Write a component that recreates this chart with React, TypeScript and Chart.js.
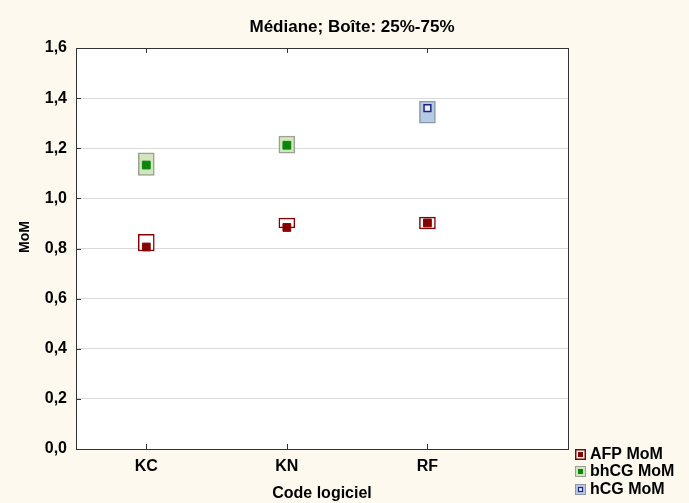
import React, { useEffect, useRef } from 'react';
import { Chart, registerables } from 'chart.js';

Chart.register(...registerables);

// ---- data ----
const categories = ['KC', 'KN', 'RF'];

// AFP MoM (KC, KN, RF)
const afpQ1 = [0.79, 0.882, 0.878];
const afpMedian = [0.806, 0.884, 0.902];
const afpQ3 = [0.857, 0.921, 0.925];

// bhCG MoM (KC, KN)
const bhcgCats = [0, 1];
const bhcgQ1 = [1.092, 1.18];
const bhcgMedian = [1.133, 1.212];
const bhcgQ3 = [1.182, 1.249];

// hCG MoM (RF)
const hcgCats = [2];
const hcgQ1 = [1.3];
const hcgMedian = [1.36];
const hcgQ3 = [1.388];

const seriesLabels = ['AFP MoM', 'bhCG MoM', 'hCG MoM'];
const titleText = 'Médiane; Boîte: 25%-75%';
const xTitle = 'Code logiciel';
const yTitle = 'MoM';
const yMin = 0;
const yMax = 1.6;
const yStep = 0.2;

// ---- styles ----
const FONT = "'Liberation Sans', Arial, Helvetica, sans-serif";
const BG = '#fdf9ef';
const AFP_DARK = '#860000';
const BHCG_FILL = '#d2e5bf';
const BHCG_EDGE = '#97a28f';
const BHCG_DARK = '#0b860b';
const HCG_FILL = '#b7cae3';
const HCG_EDGE = '#8d97aa';
const HCG_DARK = '#1f237f';
const HCG_INNER = '#e9eff8';

const framePlugin = {
  id: 'frameAndLegend',
  beforeDraw(chart: any) {
    const { ctx, chartArea: a } = chart;
    ctx.save();
    ctx.fillStyle = BG;
    ctx.fillRect(0, 0, chart.width, chart.height);
    ctx.fillStyle = '#ffffff';
    ctx.fillRect(a.left, a.top, a.right - a.left, a.bottom - a.top);
    ctx.restore();
  },
  afterDraw(chart: any) {
    const { ctx, chartArea: a } = chart;
    const xs = chart.scales.x;
    const ys = chart.scales.y;
    ctx.save();
    // frame
    ctx.strokeStyle = '#333333';
    ctx.lineWidth = 1;
    ctx.strokeRect(Math.round(a.left) + 0.5, Math.round(a.top) + 0.5, Math.round(a.right - a.left), Math.round(a.bottom - a.top));
    // inward ticks
    ctx.beginPath();
    ys.ticks.forEach((t: any) => {
      const y = Math.round(ys.getPixelForValue(t.value)) + 0.5;
      ctx.moveTo(a.left, y);
      ctx.lineTo(a.left + 5, y);
    });
    xs.ticks.forEach((t: any) => {
      const x = Math.round(xs.getPixelForValue(t.value)) + 0.5;
      ctx.moveTo(x, a.bottom);
      ctx.lineTo(x, a.bottom - 5);
      ctx.moveTo(x, a.top);
      ctx.lineTo(x, a.top + 5);
    });
    ctx.stroke();

    // title
    ctx.fillStyle = '#000000';
    ctx.font = `bold 17px ${FONT}`;
    ctx.textAlign = 'center';
    ctx.textBaseline = 'middle';
    ctx.fillText(titleText, 352, 27);

    // y axis title
    ctx.save();
    ctx.translate(25, 237);
    ctx.rotate(-Math.PI / 2);
    ctx.font = `bold 14px ${FONT}`;
    ctx.fillText(yTitle, 0, 0);
    ctx.restore();

    // legend
    const lx = Math.round(a.right) + 7;
    const rows = [a.bottom + 5, a.bottom + 22, a.bottom + 40];
    const s = 11;
    ctx.font = `bold 16px ${FONT}`;
    ctx.textBaseline = 'middle';
    ctx.textAlign = 'left';
    rows.forEach((cy, i) => {
      const top = Math.round(cy - s / 2);
      if (i === 0) {
        ctx.fillStyle = '#ffffff';
        ctx.fillRect(lx, top, s, s);
        ctx.strokeStyle = AFP_DARK;
        ctx.lineWidth = 1.5;
        ctx.strokeRect(lx + 0.75, top + 0.75, s - 1.5, s - 1.5);
        ctx.fillStyle = AFP_DARK;
        ctx.fillRect(lx + 3, top + 3, s - 6, s - 6);
      } else if (i === 1) {
        ctx.fillStyle = BHCG_FILL;
        ctx.fillRect(lx, top, s, s);
        ctx.strokeStyle = BHCG_EDGE;
        ctx.lineWidth = 1;
        ctx.strokeRect(lx + 0.5, top + 0.5, s - 1, s - 1);
        ctx.fillStyle = BHCG_DARK;
        ctx.fillRect(lx + 3, top + 3, s - 6, s - 6);
      } else {
        ctx.fillStyle = HCG_FILL;
        ctx.fillRect(lx, top, s, s);
        ctx.strokeStyle = HCG_EDGE;
        ctx.lineWidth = 1;
        ctx.strokeRect(lx + 0.5, top + 0.5, s - 1, s - 1);
        ctx.fillStyle = HCG_INNER;
        ctx.fillRect(lx + 3, top + 3, s - 6, s - 6);
        ctx.strokeStyle = HCG_DARK;
        ctx.lineWidth = 1.2;
        ctx.strokeRect(lx + 3.5, top + 3.5, s - 7, s - 7);
      }
      ctx.fillStyle = '#000000';
      ctx.fillText(seriesLabels[i], lx + 15, cy + 1);
    });
    ctx.restore();
  },
};

export default function App() {
  const ref = useRef<HTMLCanvasElement | null>(null);

  useEffect(() => {
    if (!ref.current) return;
    const afpBoxes = categories.map((_, i) => ({ x: i, y: [afpQ1[i], afpQ3[i]] }));
    const afpMeds = categories.map((_, i) => ({ x: i, y: afpMedian[i] }));
    const bhBoxes = bhcgCats.map((c, i) => ({ x: c, y: [bhcgQ1[i], bhcgQ3[i]] }));
    const bhMeds = bhcgCats.map((c, i) => ({ x: c, y: bhcgMedian[i] }));
    const hBoxes = hcgCats.map((c, i) => ({ x: c, y: [hcgQ1[i], hcgQ3[i]] }));
    const hMeds = hcgCats.map((c, i) => ({ x: c, y: hcgMedian[i] }));

    const boxCommon = { barThickness: 16, grouped: false, borderSkipped: false, order: 2 };
    const medCommon = { type: 'scatter', pointStyle: 'rect', order: 1 };

    const chart = new Chart(ref.current, {
      type: 'bar',
      data: {
        datasets: [
          { ...boxCommon, label: seriesLabels[0], data: afpBoxes, backgroundColor: '#ffffff', borderColor: AFP_DARK, borderWidth: 1.5 },
          { ...boxCommon, label: seriesLabels[1], data: bhBoxes, backgroundColor: BHCG_FILL, borderColor: BHCG_EDGE, borderWidth: 1.5 },
          { ...boxCommon, label: seriesLabels[2], data: hBoxes, backgroundColor: HCG_FILL, borderColor: HCG_EDGE, borderWidth: 1.5 },
          { ...medCommon, label: seriesLabels[0] + ' médiane', data: afpMeds, pointRadius: 5.5, backgroundColor: AFP_DARK, borderColor: AFP_DARK, borderWidth: 1 },
          { ...medCommon, label: seriesLabels[1] + ' médiane', data: bhMeds, pointRadius: 5.5, backgroundColor: BHCG_DARK, borderColor: BHCG_DARK, borderWidth: 1 },
          { ...medCommon, label: seriesLabels[2] + ' médiane', data: hMeds, pointRadius: 4.8, backgroundColor: HCG_INNER, borderColor: HCG_DARK, borderWidth: 1.5 },
        ] as any,
      },
      options: {
        animation: false,
        responsive: false,
        devicePixelRatio: 1,
        layout: { padding: { left: 0, right: 121, top: 48, bottom: 0 } },
        plugins: {
          legend: { display: false },
          tooltip: { enabled: false },
          title: { display: false },
        },
        scales: {
          x: {
            type: 'linear',
            min: -0.5,
            max: 3,
            offset: false,
            afterBuildTicks: (s: any) => {
              s.ticks = categories.map((_, i) => ({ value: i }));
            },
            afterFit: (s: any) => {
              s.height = 54;
            },
            ticks: {
              callback: (v: any) => categories[Number(v)] ?? '',
              color: '#000000',
              font: { family: FONT, size: 16, weight: 'bold' },
              padding: 8,
              maxRotation: 0,
              autoSkip: false,
            },
            grid: { display: false, drawTicks: false },
            border: { display: false },
            title: {
              display: true,
              text: xTitle,
              color: '#000000',
              font: { family: FONT, size: 16, weight: 'bold' },
              padding: { top: 0, bottom: 0 },
            },
          },
          y: {
            type: 'linear',
            min: yMin,
            max: yMax,
            afterFit: (s: any) => {
              s.width = 76;
            },
            ticks: {
              stepSize: yStep,
              callback: (v: any) => Number(v).toFixed(1).replace('.', ','),
              color: '#000000',
              font: { family: FONT, size: 16, weight: 'bold' },
              padding: 9,
            },
            grid: { color: '#dadada', lineWidth: 1, drawTicks: false },
            border: { display: false },
            title: { display: false },
          },
        },
      } as any,
      plugins: [framePlugin],
    });
    return () => chart.destroy();
  }, []);

  return (
    <div style={{ position: 'absolute', left: 0, top: 0, width: 689, height: 503, background: BG }}>
      <canvas ref={ref} width={689} height={503} style={{ display: 'block', width: 689, height: 503 }} />
    </div>
  );
}
